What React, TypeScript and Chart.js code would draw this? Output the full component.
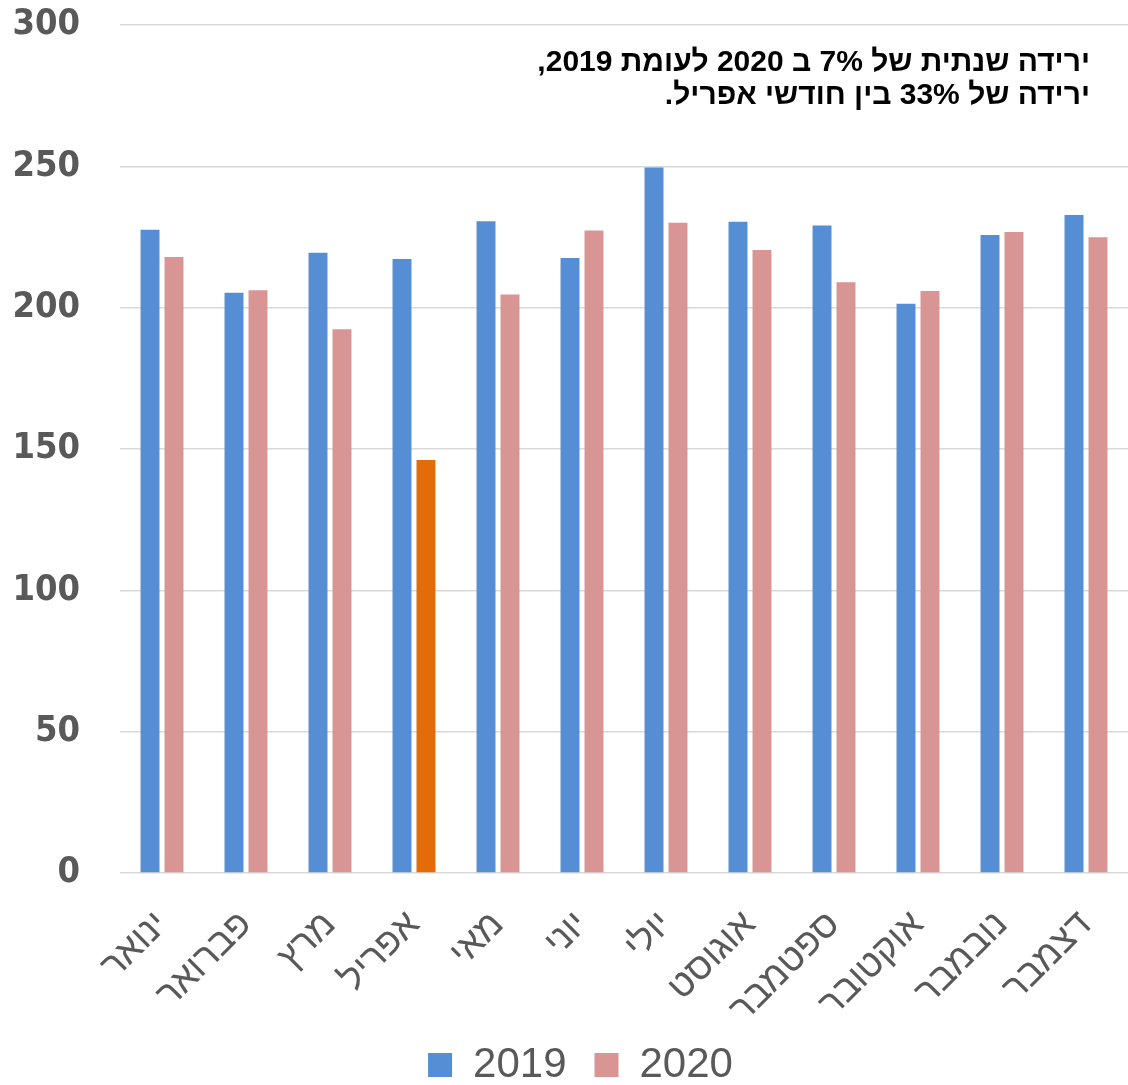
import React, { useEffect, useRef } from "react";
import { Chart, registerables } from "chart.js";

Chart.register(...registerables);

const months = ["ינואר", "פברואר", "מרץ", "אפריל", "מאי", "יוני", "יולי", "אוגוסט", "ספטמבר", "אוקטובר", "נובמבר", "דצמבר"];
const values2019 = [227.6, 205.3, 219.4, 217.2, 230.6, 217.6, 249.6, 230.4, 229.1, 201.4, 225.7, 232.8];
const values2020 = [217.9, 206.2, 192.4, 146.1, 204.7, 227.3, 230.0, 220.4, 209.0, 205.9, 226.8, 224.9];
const seriesNames = ["2019", "2020"];
const yTicks = [0, 50, 100, 150, 200, 250, 300];
const noteLines = ["ירידה שנתית של 7% ב 2020 לעומת 2019,", "ירידה של 33% בין חודשי אפריל."];
const highlightIndex = 3;

const BLUE = "#558ED5";
const PINK = "#D99594";
const ORANGE = "#E36C09";
const GRAY = "#595959";

const notePlugin = {
  id: "notePlugin",
  afterLayout(chart: any) {
    if (chart.legend) {
      chart.legend.left += 15;
      chart.legend.right += 15;
    }
  },
  afterDraw(chart: any) {
    const ctx = chart.ctx;
    ctx.save();
    ctx.fillStyle = "#000000";
    ctx.font = "bold 30px 'Liberation Sans', Arial, sans-serif";
    ctx.direction = "rtl";
    ctx.textAlign = "right";
    ctx.textBaseline = "alphabetic";
    const x = 1090;
    noteLines.forEach((line, i) => {
      ctx.fillText(line, x, 71 + i * 33);
    });
    ctx.restore();
  },
};

export default function App() {
  const ref = useRef<HTMLCanvasElement | null>(null);
  useEffect(() => {
    document.body.style.margin = "0";
    const canvas = ref.current;
    if (!canvas) return;
    const chart = new Chart(canvas, {
      type: "bar",
      data: {
        labels: months,
        datasets: [
          {
            label: seriesNames[0],
            data: values2019,
            backgroundColor: BLUE,
            categoryPercentage: 0.571,
            barPercentage: 0.79,
          },
          {
            label: seriesNames[1],
            data: values2020,
            backgroundColor: (c: any) => (c.dataIndex === highlightIndex ? ORANGE : PINK),
            categoryPercentage: 0.571,
            barPercentage: 0.79,
          },
        ],
      },
      options: {
        animation: false,
        responsive: true,
        maintainAspectRatio: false,
        layout: { padding: { top: 25, left: 0, right: -3, bottom: -11 } },
        plugins: {
          legend: {
            position: "bottom",
            labels: {
              boxWidth: 24,
              boxHeight: 24,
              color: GRAY,
              padding: 28,
              font: { size: 42, family: "'Liberation Sans', Arial, sans-serif" },
            },
          },
          tooltip: { enabled: false },
          title: { display: false },
        },
        scales: {
          x: {
            grid: { display: false },
            border: { display: false },
            afterFit: (s: any) => {
              s.paddingLeft = 0;
              s.paddingRight = 0;
              s.height = 143;
            },
            ticks: {
              color: GRAY,
              minRotation: 45,
              maxRotation: 45,
              padding: 22,
              font: { size: 37, family: "'Liberation Sans', Arial, sans-serif" },
            },
          },
          y: {
            min: yTicks[0],
            max: yTicks[yTicks.length - 1],
            afterBuildTicks: (axis: any) => {
              axis.ticks = yTicks.map((v) => ({ value: v }));
            },
            afterFit: (s: any) => {
              s.paddingTop = 0;
              s.paddingBottom = 0;
              s.width = 120;
            },
            grid: { color: "#d9d9d9", lineWidth: 1.5, drawTicks: false },
            border: { display: false },
            ticks: {
              color: GRAY,
              padding: 40,
              font: { size: 36, weight: "bold", family: "'DejaVu Sans Condensed', 'DejaVu Sans', Verdana, sans-serif" },
            },
          },
        },
      },
      plugins: [notePlugin],
    });
    return () => chart.destroy();
  }, []);
  return (
    <div style={{ width: 1128, height: 1085, position: "relative", background: "#fff" }}>
      <canvas ref={ref} />
    </div>
  );
}
